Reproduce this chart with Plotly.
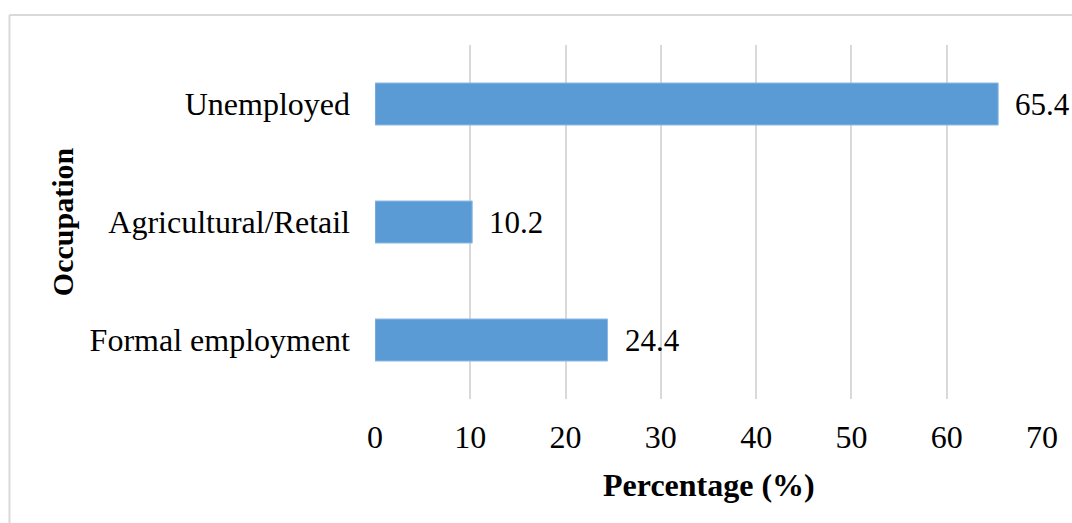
import plotly.graph_objects as go

categories = ["Formal employment", "Agricultural/Retail", "Unemployed"]
values = [24.4, 10.2, 65.4]
x_ticks = [0, 10, 20, 30, 40, 50, 60, 70]

FONT = "Liberation Serif, Times New Roman, serif"
BAR = "#5B9BD5"
GRID = "#D9D9D9"

fig = go.Figure()
fig.add_trace(go.Bar(
    y=categories, x=values, orientation="h",
    marker=dict(color=BAR, line=dict(color="#8DB9E4", width=1)),
    hoverinfo="x+y",
))

for c, v in zip(categories, values):
    fig.add_annotation(x=v, y=c, xref="x", yref="y", text=f"{v:.1f}",
                       showarrow=False, xanchor="left", yanchor="middle",
                       xshift=15, font=dict(family=FONT, size=31, color="#000"))

fig.add_annotation(x=0.5, y=-0.243, xref="paper", yref="paper",
                   text="<b>Percentage (%)</b>", showarrow=False,
                   xanchor="center", yanchor="middle",
                   font=dict(family=FONT, size=32, color="#000"))
fig.add_annotation(x=-0.469, y=0.5, xref="paper", yref="paper",
                   text="<b>Occupation</b>", showarrow=False, textangle=-90,
                   xanchor="center", yanchor="middle",
                   font=dict(family=FONT, size=30, color="#000"))

# outer chart border (top and left visible)
fig.add_shape(type="line", xref="paper", yref="paper",
              x0=-0.548, x1=1.1, y0=1.0847, y1=1.0847,
              line=dict(color=GRID, width=2))
fig.add_shape(type="line", xref="paper", yref="paper",
              x0=-0.548, x1=-0.548, y0=-0.4, y1=1.0847,
              line=dict(color=GRID, width=2))

fig.update_layout(
    width=1072, height=523,
    margin=dict(l=375, r=30, t=45, b=124),
    paper_bgcolor="white", plot_bgcolor="white",
    bargap=0.644,
    showlegend=False,
    font=dict(family=FONT, size=32, color="#000"),
    xaxis=dict(range=[0, 70], tickvals=x_ticks, showgrid=True,
               gridcolor=GRID, gridwidth=1.5, zeroline=False,
               showline=False, ticks="", ticklabelstandoff=16,
               tickfont=dict(family=FONT, size=32, color="#000"),
               fixedrange=True),
    yaxis=dict(showgrid=False, showline=False, ticks="",
               ticklabelstandoff=24,
               tickfont=dict(family=FONT, size=32, color="#000"),
               fixedrange=True),
)

fig.write_html("out.html",
               config={"displayModeBar": False},
               post_script="document.body.style.margin='0';"
                           "document.body.style.overflow='hidden';")
